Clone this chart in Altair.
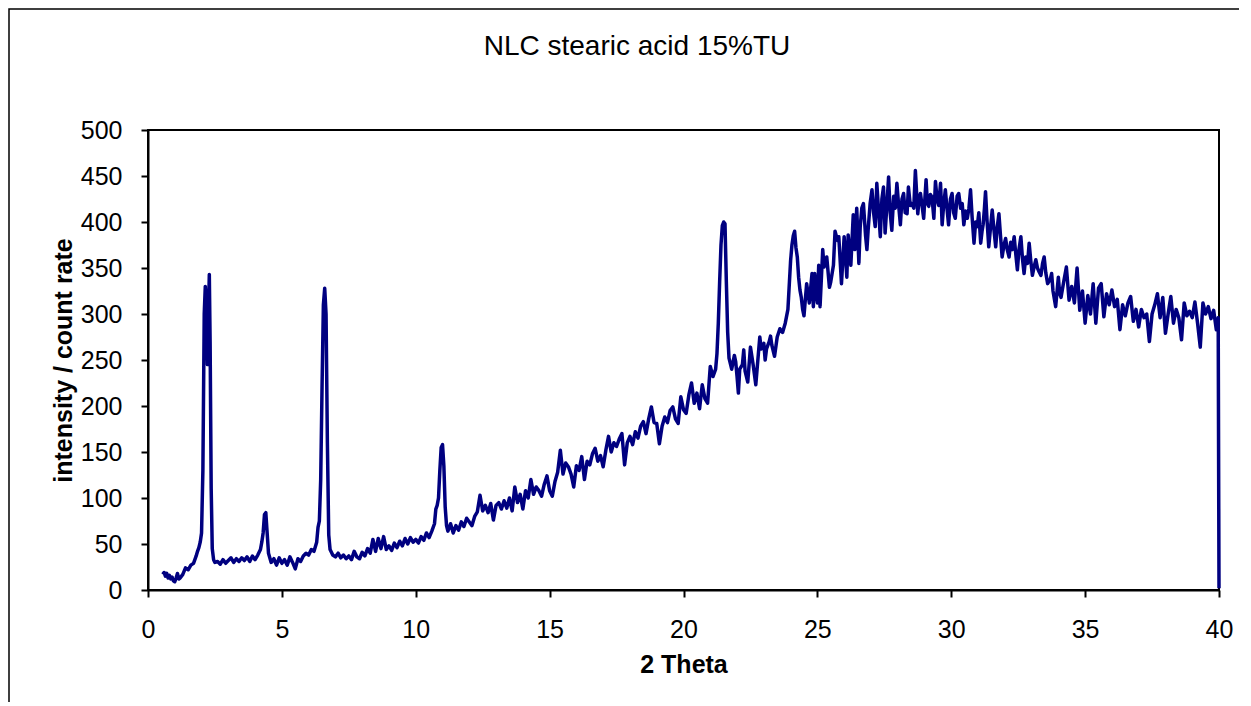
import altair as alt
import pandas as pd

title_text = "NLC stearic acid 15%TU"
x_title = "2 Theta"
y_title = "intensity / count rate"
x_ticks = [0, 5, 10, 15, 20, 25, 30, 35, 40]
y_ticks = [0, 50, 100, 150, 200, 250, 300, 350, 400, 450, 500]

# segment A: start and the doublet near 2.2
theta_a = [0.55, 0.6, 0.65, 0.7, 0.75, 0.8, 0.85, 0.9, 0.95, 1.0, 1.05, 1.1, 1.15, 1.2, 1.3, 1.4, 1.5,
           1.6, 1.7, 1.8, 1.85, 1.9, 1.95, 2.0, 2.05, 2.1, 2.14, 2.18, 2.22, 2.26, 2.29, 2.32, 2.36,
           2.4, 2.45, 2.5]
count_a = [17, 19, 15, 18, 13, 16, 12, 14, 10, 9, 13, 18, 12, 13, 17, 24, 22,
           27, 29, 37, 42, 46, 52, 62, 130, 300, 330, 310, 245, 305, 343, 270, 110,
           45, 33, 30]

# segment B: flat base with the small 4.4 peak
theta_b = [2.6, 2.7, 2.8, 2.9, 3.0, 3.1, 3.2, 3.3, 3.4, 3.5, 3.6, 3.7, 3.8, 3.9, 4.0, 4.1, 4.2,
           4.25, 4.3, 4.35, 4.4, 4.45, 4.5, 4.6, 4.7, 4.8, 4.9, 5.0, 5.1, 5.2, 5.3, 5.4, 5.5,
           5.6, 5.7, 5.8, 5.9, 6.0, 6.1, 6.2]
count_b = [31, 28, 33, 29, 32, 35, 30, 34, 31, 35, 32, 36, 31, 37, 33, 38, 44,
           52, 62, 82, 84, 62, 40, 30, 34, 27, 35, 29, 33, 27, 36, 30, 23,
           34, 31, 37, 40, 38, 44, 42]

# segment C: 6.6 peak and 11.0 peak
theta_c = [6.3, 6.35, 6.4, 6.45, 6.5, 6.55, 6.6, 6.65, 6.7, 6.75, 6.8, 6.9, 7.0, 7.1, 7.2, 7.3,
           7.4, 7.5, 7.6, 7.7, 7.8, 7.9, 8.0, 8.1, 8.2, 8.3, 8.4, 8.5, 8.6, 8.7, 8.8, 8.9, 9.0,
           9.1, 9.2, 9.3, 9.4, 9.5, 9.6, 9.7, 9.8, 9.9, 10.0, 10.1, 10.2, 10.3, 10.4, 10.5,
           10.6, 10.7, 10.75, 10.8, 10.85, 10.9, 10.95, 11.0, 11.05, 11.1, 11.15, 11.2]
count_c = [52, 68, 75, 120, 220, 310, 328, 300, 160, 60, 44, 38, 36, 40, 35, 38,
           34, 37, 33, 42, 36, 34, 41, 37, 45, 40, 55, 42, 56, 45, 58, 44, 48,
           43, 51, 46, 53, 48, 56, 50, 57, 52, 55, 51, 58, 54, 62, 57,
           64, 72, 88, 92, 100, 130, 155, 158, 135, 90, 70, 64]

# segment D: rising background 11.3 - 21.2
theta_d = [11.3, 11.4, 11.5, 11.6, 11.7, 11.8, 11.9, 12.0, 12.1, 12.2, 12.3, 12.4, 12.5, 12.6,
           12.7, 12.8, 12.9, 13.0, 13.1, 13.2, 13.3, 13.4, 13.5, 13.6, 13.7, 13.8, 13.9, 14.0,
           14.1, 14.2, 14.3, 14.4, 14.5, 14.6, 14.7, 14.8, 14.9, 15.0, 15.1, 15.2, 15.3, 15.4,
           15.5, 15.6, 15.7, 15.8, 15.9, 16.0, 16.1, 16.2, 16.3, 16.4, 16.5, 16.6, 16.7, 16.8,
           16.9, 17.0, 17.1, 17.2, 17.3, 17.4, 17.5, 17.6, 17.7, 17.8, 17.9, 18.0, 18.1, 18.2,
           18.3, 18.4, 18.5, 18.6, 18.7, 18.8, 18.9, 19.0, 19.1, 19.2, 19.3, 19.4, 19.5, 19.6,
           19.7, 19.8, 19.9, 20.0, 20.1, 20.2, 20.3, 20.4, 20.5, 20.6, 20.7, 20.8, 20.9, 21.0,
           21.1, 21.2]
count_d = [72, 62, 70, 65, 74, 69, 78, 74, 70, 80, 85, 103, 86, 92,
           84, 94, 76, 92, 95, 88, 97, 89, 100, 86, 112, 95, 104, 88,
           108, 100, 120, 104, 112, 108, 102, 115, 124, 108, 102, 118, 128, 152,
           126, 138, 134, 126, 112, 135, 130, 145, 120, 140, 136, 148, 154, 140,
           146, 134, 152, 167, 150, 160, 156, 164, 170, 136, 160, 167, 158, 172,
           165, 178, 183, 170, 186, 199, 182, 181, 159, 178, 188, 182, 195, 199,
           186, 181, 210, 196, 192, 212, 225, 203, 214, 197, 223, 208, 203, 243,
           232, 240]

# segment E: 21.5 and 24.1 peaks
theta_e = [21.25, 21.3, 21.35, 21.4, 21.45, 21.5, 21.55, 21.6, 21.65, 21.7, 21.8, 21.9, 21.95,
           22.0, 22.05, 22.1, 22.2, 22.25, 22.3, 22.4, 22.5, 22.6, 22.7, 22.8, 22.85, 22.9,
           23.0, 23.05, 23.1, 23.2, 23.25, 23.3, 23.4, 23.5, 23.6, 23.7, 23.8, 23.9, 24.0,
           24.05, 24.1, 24.15, 24.2, 24.25, 24.3, 24.35, 24.4, 24.45, 24.5, 24.6, 24.7, 24.8,
           24.85, 24.9, 25.0, 25.05, 25.1, 25.2, 25.25, 25.35, 25.45, 25.5, 25.6, 25.66, 25.75,
           25.8, 25.9, 26.0, 26.1, 26.15, 26.25, 26.34, 26.4, 26.47, 26.55, 26.6, 26.66, 26.72]
count_e = [257, 290, 335, 375, 396, 400, 398, 335, 280, 252, 240, 255, 248,
           232, 214, 240, 245, 261, 238, 226, 264, 245, 223, 258, 275, 262,
           268, 250, 262, 270, 276, 266, 254, 275, 284, 280, 290, 305, 358,
           375, 385, 390, 372, 362, 340, 326, 318, 305, 298, 333, 312, 344,
           308, 344, 312, 353, 308, 370, 351, 362, 329, 335, 353, 390, 380,
           384, 333, 384, 340, 386, 353, 408, 370, 415, 355, 395, 415, 420]

# segment F: amorphous hump maximum
theta_f = [26.8, 26.85, 26.9, 26.97, 27.04, 27.1, 27.16, 27.22, 27.28, 27.35, 27.41, 27.47,
           27.53, 27.6, 27.66, 27.72, 27.78, 27.85, 27.91, 27.97, 28.03, 28.1, 28.16, 28.22,
           28.28, 28.35, 28.4, 28.47, 28.53, 28.6, 28.66, 28.75, 28.8, 28.85, 28.91, 28.97,
           29.06, 29.11, 29.16, 29.22, 29.28, 29.35, 29.41, 29.47, 29.53, 29.6, 29.66, 29.72,
           29.78, 29.84, 29.9, 29.97, 30.03, 30.09, 30.15, 30.22, 30.28, 30.35, 30.41, 30.47,
           30.53, 30.6, 30.66, 30.72, 30.78, 30.85, 30.91, 30.97, 31.03, 31.1, 31.15, 31.19,
           31.24, 31.28, 31.34, 31.4, 31.47, 31.53, 31.6, 31.66, 31.72, 31.78, 31.84, 31.9,
           31.97, 32.03, 32.09, 32.16, 32.22, 32.28, 32.35, 32.41, 32.47, 32.53, 32.6, 32.66,
           32.72, 32.78, 32.85, 32.91, 32.97, 33.03, 33.1, 33.16, 33.22, 33.28, 33.35, 33.41,
           33.47, 33.53, 33.6]
count_f = [385, 370, 393, 420, 435, 410, 395, 442, 415, 384, 425, 438,
           388, 420, 449, 410, 391, 428, 415, 442, 420, 397, 425, 431,
           410, 409, 438, 418, 420, 415, 456, 409, 425, 431, 418, 404,
           446, 420, 417, 430, 427, 404, 444, 425, 418, 442, 397, 420,
           435, 415, 397, 425, 431, 410, 404, 428, 431, 415, 420, 397,
           412, 404, 415, 435, 405, 377, 400, 395, 410, 377, 390, 397,
           415, 433, 400, 373, 395, 413, 390, 373, 395, 409, 385, 362,
           375, 382, 370, 362, 378, 370, 384, 365, 348, 370, 384, 360,
           344, 362, 355, 377, 358, 342, 352, 359, 350, 346, 342, 355,
           362, 345, 333]

# segment G: decline to the end of the scan
theta_g = [33.7, 33.75, 33.8, 33.9, 34.0, 34.05, 34.1, 34.2, 34.3, 34.4, 34.5, 34.6, 34.7, 34.8,
           34.9, 35.0, 35.1, 35.2, 35.3, 35.4, 35.5, 35.6, 35.7, 35.8, 35.9, 36.0, 36.1, 36.2,
           36.3, 36.4, 36.5, 36.6, 36.7, 36.8, 36.9, 37.0, 37.1, 37.2, 37.3, 37.4, 37.5, 37.6,
           37.7, 37.8, 37.9, 38.0, 38.1, 38.2, 38.3, 38.4, 38.5, 38.6, 38.7, 38.8, 38.9, 39.0,
           39.1, 39.2, 39.3, 39.4, 39.5, 39.6, 39.7, 39.8, 39.9, 39.97, 40.0]
count_g = [338, 344, 325, 308, 340, 322, 318, 335, 351, 315, 330, 312, 350, 304,
           325, 290, 320, 300, 333, 290, 328, 333, 297, 322, 310, 326, 308, 316,
           283, 310, 298, 312, 319, 292, 305, 286, 305, 296, 300, 270, 300, 310,
           322, 296, 318, 279, 300, 319, 290, 305, 296, 272, 312, 298, 303, 296,
           313, 290, 264, 312, 300, 308, 295, 304, 283, 296, 2]

theta = theta_a + theta_b + theta_c + theta_d + theta_e + theta_f + theta_g
counts = count_a + count_b + count_c + count_d + count_e + count_f + count_g
df = pd.DataFrame({"theta": theta, "counts": counts})

FONT = "Liberation Sans"

line = alt.Chart(df).mark_line(color="#000080", strokeWidth=3.5, strokeJoin="round").encode(
    x=alt.X("theta:Q", scale=alt.Scale(domain=[0, 40], nice=False, zero=False),
            axis=alt.Axis(title=x_title, values=x_ticks, format="d", grid=False,
                          labelFlush=False, labelOverlap=False,
                          labelPadding=20, titlePadding=10, tickSize=7)),
    y=alt.Y("counts:Q", scale=alt.Scale(domain=[0, 500], nice=False),
            axis=alt.Axis(title=y_title, values=y_ticks, format="d", grid=False,
                          labelFlush=False, labelOverlap=False,
                          labelPadding=19, titlePadding=4, tickSize=7)),
)

title_mark = alt.Chart(alt.Data(values=[{"t": title_text}])).mark_text(
    font=FONT, fontSize=28, color="black", align="center", baseline="alphabetic"
).encode(text="t:N", x=alt.value(489), y=alt.value(-75))

frame = alt.Chart(alt.Data(values=[{"k": 1}])).mark_rect(
    fillOpacity=0, stroke="black", strokeWidth=1.5
).encode(x=alt.value(-139), x2=alt.value(1180), y=alt.value(-121), y2=alt.value(720))

chart = alt.layer(line, title_mark, frame).properties(
    width=1071, height=460,
    autosize=alt.AutoSizeParams(type="none"),
    padding={"left": 140, "top": 122, "right": 20, "bottom": 112},
    background="white",
).configure_view(
    stroke="black", strokeWidth=2
).configure_axis(
    domainColor="black", domainWidth=2, tickColor="black", tickWidth=2,
    labelFont=FONT, labelFontSize=25, labelColor="black",
    titleFont=FONT, titleFontSize=25, titleFontWeight="bold", titleColor="black",
)

chart.save("out.html", embed_options={"renderer": "svg", "actions": False})
